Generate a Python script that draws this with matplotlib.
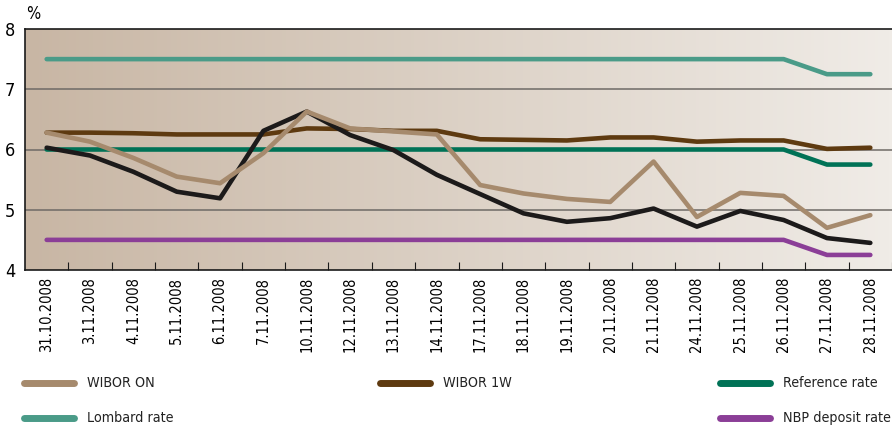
import numpy as np
import matplotlib
matplotlib.use('Agg')
import matplotlib.pyplot as plt
from matplotlib.colors import LinearSegmentedColormap
from matplotlib.lines import Line2D

plt.rcParams['font.family'] = ['DejaVu Sans']
plt.rcParams['font.stretch'] = 'condensed'

# dane
dates = ['31.10.2008', '3.11.2008', '4.11.2008', '5.11.2008', '6.11.2008',
         '7.11.2008', '10.11.2008', '12.11.2008', '13.11.2008', '14.11.2008',
         '17.11.2008', '18.11.2008', '19.11.2008', '20.11.2008', '21.11.2008',
         '24.11.2008', '25.11.2008', '26.11.2008', '27.11.2008', '28.11.2008']
wibor_on = [6.28, 6.13, 5.86, 5.55, 5.44, 5.94, 6.63, 6.35, 6.30, 6.25,
            5.41, 5.27, 5.18, 5.13, 5.80, 4.88, 5.28, 5.23, 4.70, 4.91]
wibor_1w = [6.28, 6.28, 6.27, 6.25, 6.25, 6.25, 6.35, 6.34, 6.31, 6.31,
            6.17, 6.16, 6.15, 6.20, 6.20, 6.13, 6.15, 6.15, 6.01, 6.03]
polonia = [6.03, 5.90, 5.63, 5.30, 5.19, 6.31, 6.63, 6.24, 5.99, 5.58,
           5.26, 4.94, 4.80, 4.86, 5.02, 4.72, 4.98, 4.83, 4.53, 4.45]
reference = [6.0] * 18 + [5.75, 5.75]
lombard = [7.5] * 18 + [7.25, 7.25]
deposit = [4.5] * 18 + [4.25, 4.25]

fig = plt.figure(figsize=(8.92, 4.32), dpi=100)
ax = fig.add_axes([25 / 892, 1 - 270 / 432, 867 / 892, 241 / 432])

x = np.arange(len(dates))
ax.set_xlim(-0.5, len(dates) - 0.5)
ax.set_ylim(4, 8)

# tlo - gradient
cmap = LinearSegmentedColormap.from_list('bg', ['#c8b6a4', '#f0ece7'])
grad = np.linspace(0, 1, 256).reshape(1, -1)
ax.imshow(grad, cmap=cmap, aspect='auto', extent=(-0.5, len(dates) - 0.5, 4, 8), zorder=0)

for v in [5, 6, 7]:
    ax.axhline(v, color='#6e6a66', lw=1.1, zorder=1)

lw = 3.3
ax.plot(x, lombard, color='#4a9b88', lw=lw, solid_capstyle='round', zorder=3)
ax.plot(x, deposit, color='#8b3e97', lw=lw, solid_capstyle='round', zorder=3)
ax.plot(x, reference, color='#007256', lw=lw, solid_capstyle='round', zorder=3)
ax.plot(x, wibor_1w, color='#5e3a10', lw=lw, solid_capstyle='round', zorder=4)
ax.plot(x, polonia, color='#1c1a1a', lw=lw, solid_capstyle='round', zorder=5)
ax.plot(x, wibor_on, color='#a68a6d', lw=lw, solid_capstyle='round', zorder=6)

ax.spines['right'].set_visible(False)
for s in ['top', 'left', 'bottom']:
    ax.spines[s].set_color('#1a1a1a')
    ax.spines[s].set_linewidth(1.2)

ax.set_yticks([4, 5, 6, 7, 8])
ax.set_yticklabels(['4', '5', '6', '7', '8'], fontsize=13)
ax.tick_params(axis='y', length=0, pad=7)
ax.set_xticks(x + 0.5)
ax.set_xticklabels([])
ax.set_xticks(x, minor=True)
ax.set_xticklabels(dates, minor=True, rotation=90, fontsize=10.5)
ax.tick_params(axis='x', which='major', length=6, direction='in', color='#1a1a1a')
ax.tick_params(axis='x', which='minor', length=0, pad=5)
fig.text(26 / 892, 1 - 14 / 432, '%', fontsize=12, va='center')

# legenda
items = [('WIBOR ON', '#a68a6d', 24, 383), ('WIBOR 1W', '#5e3a10', 380, 383),
         ('Reference rate', '#007256', 720, 383), ('Lombard rate', '#4a9b88', 24, 418),
         ('NBP deposit rate', '#8b3e97', 720, 418)]
for name, col, px, py in items:
    fig.add_artist(Line2D([px / 892, (px + 50) / 892], [1 - py / 432, 1 - py / 432],
                          color=col, lw=5, solid_capstyle='round'))
    fig.text((px + 63) / 892, 1 - py / 432, name, fontsize=10.3, va='center', color='#222222')

fig.savefig('out.png', dpi=100)
